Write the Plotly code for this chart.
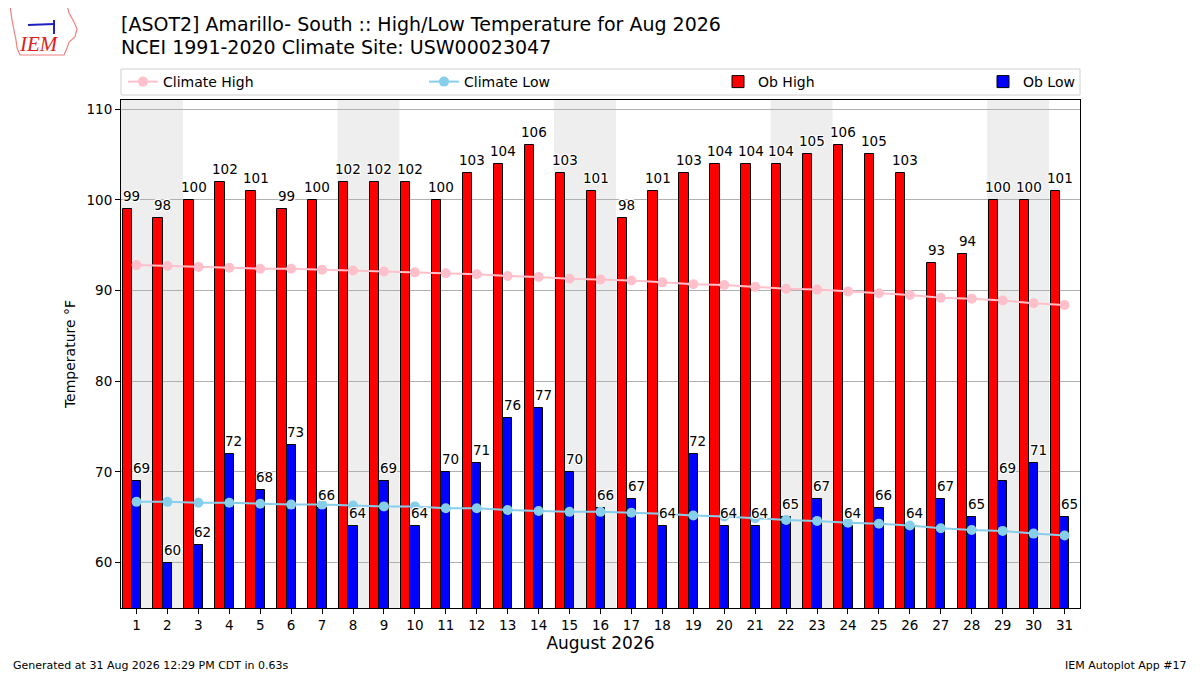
import datetime
import plotly.graph_objects as go

# Aug 2026 daily obs + 1991-2020 climatology
days = list(range(1, 32))
ob_high = [99, 98, 100, 102, 101, 99, 100, 102, 102, 102, 100, 103, 104, 106, 103, 101,
           98, 101, 103, 104, 104, 104, 105, 106, 105, 103, 93, 94, 100, 100, 101]
ob_low = [69, 60, 62, 72, 68, 73, 66, 64, 69, 64, 70, 71, 76, 77, 70, 66,
          67, 64, 72, 64, 64, 65, 67, 64, 66, 64, 67, 65, 69, 71, 65]
clim_high = [92.8, 92.7, 92.6, 92.5, 92.4, 92.4, 92.3, 92.2, 92.1, 92.0, 91.9, 91.8, 91.6, 91.5,
             91.3, 91.2, 91.1, 90.9, 90.7, 90.6, 90.4, 90.2, 90.1, 89.9, 89.7, 89.5, 89.2, 89.1,
             88.9, 88.6, 88.4]
clim_low = [66.7, 66.7, 66.6, 66.6, 66.5, 66.4, 66.4, 66.3, 66.2, 66.2, 66.0, 66.0, 65.8, 65.7,
            65.6, 65.6, 65.5, 65.4, 65.2, 65.1, 64.9, 64.7, 64.6, 64.4, 64.3, 64.1, 63.8, 63.6,
            63.5, 63.2, 63.0]
tick_labels = [str(d) for d in days]

FONT = "DejaVu Sans"
OFF = 8  # page body margin, figure is shrunk so it still fits the window
W, H = 1200 - OFF, 675 - OFF
L, R, T, B = 121, 1080, 100, 608  # plot area in page pixels


def px(x):
    return (x - L) / (R - L)


def py(y):
    return (B - y) / (B - T)


fig = go.Figure()

fig.add_trace(go.Bar(x=days, y=ob_high, width=0.3, offset=-0.45, name="Ob High",
                     marker=dict(color="#ff0000", line=dict(color="black", width=1)),
                     legend="legend4", showlegend=True))
fig.add_trace(go.Bar(x=days, y=ob_low, width=0.3, offset=-0.15, name="Ob Low",
                     marker=dict(color="#0000ff", line=dict(color="black", width=1)),
                     legend="legend5", showlegend=True))
fig.add_trace(go.Scatter(x=days, y=clim_high, mode="lines+markers", name="Climate High",
                         line=dict(color="#ffc0cb", width=2), marker=dict(size=10, color="#ffc0cb"),
                         legend="legend2", showlegend=True))
fig.add_trace(go.Scatter(x=days, y=clim_low, mode="lines+markers", name="Climate Low",
                         line=dict(color="#87ceeb", width=2), marker=dict(size=10, color="#87ceeb"),
                         legend="legend3", showlegend=True))

halo = "1px 1px 0 white, -1px -1px 0 white, 1px -1px 0 white, -1px 1px 0 white"
annotations = []
for d, hi, lo in zip(days, ob_high, ob_low):
    annotations.append(dict(x=d - 0.15, y=hi, text=str(hi), showarrow=False, yanchor="bottom",
                            yshift=3, font=dict(family=FONT, size=13.5, color="black", shadow=halo)))
    annotations.append(dict(x=d + 0.15, y=lo, text=str(lo), showarrow=False, yanchor="bottom",
                            yshift=3, font=dict(family=FONT, size=13.5, color="black", shadow=halo)))

# weekend shading, consecutive weekend days merged into one band
shapes = []
band = None
for d in days:
    if datetime.date(2026, 8, d).weekday() >= 5:
        band = [band[0], d] if band else [d, d]
    elif band:
        shapes.append(dict(type="rect", xref="x", yref="paper", x0=band[0] - 0.5, x1=band[1] + 0.5,
                           y0=0, y1=1, fillcolor="#eeeeee", line=dict(width=0), layer="below"))
        band = None
if band:
    shapes.append(dict(type="rect", xref="x", yref="paper", x0=band[0] - 0.5, x1=band[1] + 0.5,
                       y0=0, y1=1, fillcolor="#eeeeee", line=dict(width=0), layer="below"))

# legend frame
shapes.append(dict(type="rect", xref="paper", yref="paper", x0=px(121), x1=px(1080),
                   y0=py(95), y1=py(69), line=dict(color="#d0d0d0", width=1),
                   fillcolor="rgba(0,0,0,0)", layer="below"))

# rough IEM logo
iowa = [(10, 6), (67, 5), (69, 13), (74, 22), (77, 29), (75, 37), (69, 42), (67, 48),
        (64, 55), (20, 55), (17, 48), (16, 40), (14, 30), (12, 20)]
path = "M " + " L ".join(f"{px(a):.4f},{py(b):.4f}" for a, b in iowa) + " Z"
shapes.append(dict(type="path", xref="paper", yref="paper", path=path,
                   line=dict(color="#f08080", width=1.2)))
shapes.append(dict(type="line", xref="paper", yref="paper", x0=px(28), x1=px(54),
                   y0=py(25), y1=py(24), line=dict(color="#2020c0", width=2)))
shapes.append(dict(type="line", xref="paper", yref="paper", x0=px(54), x1=px(54),
                   y0=py(20), y1=py(34), line=dict(color="#2020c0", width=2)))

legend_common = dict(orientation="h", yanchor="middle", y=py(82), xanchor="left",
                     bgcolor="rgba(0,0,0,0)", font=dict(family=FONT, size=14, color="black"))

annotations += [
    dict(text="[ASOT2] Amarillo- South :: High/Low Temperature for Aug 2026", xref="paper", yref="paper",
         x=px(119), y=py(24), xanchor="left", yanchor="middle", showarrow=False,
         font=dict(family=FONT, size=19, color="black")),
    dict(text="NCEI 1991-2020 Climate Site: USW00023047", xref="paper", yref="paper",
         x=px(119), y=py(47), xanchor="left", yanchor="middle", showarrow=False,
         font=dict(family=FONT, size=19, color="black")),
    dict(text="Generated at 31 Aug 2026 12:29 PM CDT in 0.63s", xref="paper", yref="paper",
         x=px(11), y=py(665), xanchor="left", yanchor="middle", showarrow=False,
         font=dict(family=FONT, size=11, color="black")),
    dict(text="IEM Autoplot App #17", xref="paper", yref="paper",
         x=px(1189), y=py(665), xanchor="right", yanchor="middle", showarrow=False,
         font=dict(family=FONT, size=11, color="black")),
    dict(text="<i>IEM</i>", xref="paper", yref="paper",
         x=px(39), y=py(44), xanchor="center", yanchor="middle", showarrow=False,
         font=dict(family="Liberation Serif", size=21, color="#e02020")),
]

fig.update_layout(
    width=W, height=H,
    margin=dict(l=L - OFF, r=W - (R - OFF), t=T - OFF, b=H - (B - OFF)),
    paper_bgcolor="white", plot_bgcolor="white",
    barmode="overlay", bargap=0, showlegend=True,
    font=dict(family=FONT, size=13.5, color="black"),
    shapes=shapes, annotations=annotations,
    legend2=dict(**legend_common, x=px(123)),
    legend3=dict(**legend_common, x=px(424)),
    legend4=dict(**legend_common, x=px(718)),
    legend5=dict(**legend_common, x=px(983)),
    xaxis=dict(range=[0.5, 31.5], tickvals=days, ticktext=tick_labels, ticks="outside",
               ticklen=5, tickcolor="black", showline=True, linecolor="black", linewidth=1,
               mirror=True, showgrid=False, zeroline=False,
               title=dict(text="August 2026", font=dict(size=17), standoff=4)),
    yaxis=dict(range=[55, 111], tickvals=[60, 70, 80, 90, 100, 110], ticks="outside",
               ticklen=5, tickcolor="black", showline=True, linecolor="black", linewidth=1,
               mirror=True, showgrid=True, gridcolor="#b0b0b0", gridwidth=1, zeroline=False,
               title=dict(text="Temperature °F", font=dict(size=14), standoff=7)),
)

fig.write_html("out.html")
